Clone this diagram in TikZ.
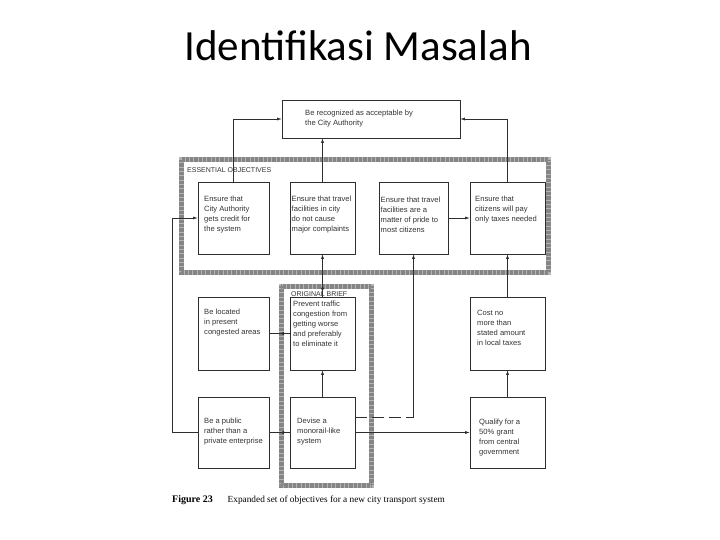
\documentclass[tikz,border=0pt]{standalone}
\usepackage{fontspec}
\setmainfont{Liberation Sans}
\newfontfamily\titlefont{Carlito}
\newfontfamily\capfont{Liberation Serif}
\usetikzlibrary{arrows.meta,decorations.markings}
\definecolor{linec}{HTML}{2E2E2E}
\definecolor{txtc}{HTML}{333333}
\definecolor{hatchA}{HTML}{B4B4B4}
\definecolor{hatchB}{HTML}{858585}
\begin{document}
\begin{tikzpicture}[x=1pt,y=-1pt,
  box/.style={draw=linec, line width=0.6pt, inner sep=0pt, minimum width=#1},
  box/.default=71,
  boxtext/.style={anchor=west, align=left, inner sep=0pt, text=txtc,
    font=\fontsize{7.6}{10}\selectfont},
  frameband/.style={draw=hatchA, line width=5pt},
  framehatch/.style={draw=hatchB, line width=5pt, dash pattern=on 0.4pt off 0.9pt},
  arr/.style={draw=linec, line width=0.6pt, -{Latex[length=4.5pt,width=3pt]}},
  conn/.style={draw=linec, line width=0.6pt},
  midarrow/.style={postaction={decorate}, decoration={markings,
    mark=at position #1 with {\arrow{Latex[length=4.5pt,width=3.2pt]}}}},
  framelabel/.style={anchor=west, inner sep=0pt, text=txtc, font=\fontsize{7}{8}\selectfont}
]
\useasboundingbox (0,0) rectangle (720,540);

% title
\node[font=\titlefont\fontsize{43}{50}\selectfont] (title) at (358,46) {Identifikasi Masalah};

% frames
\draw[frameband] (181,160) rectangle (548,272);
\draw[framehatch] (181,160) rectangle (548,272);
\draw[frameband] (281,286) rectangle (371,485);
\draw[framehatch] (281,286) rectangle (371,485);
\node[framelabel] (esslab) at (187,170.5) {ESSENTIAL OBJECTIVES};
\node[framelabel] (brieflab) at (291,294) {ORIGINAL BRIEF};

% boxes
\node[box=178, minimum height=38] (top) at (371,119) {};
\node[box=71, minimum height=72] (e1) at (233.5,218) {};
\node[box=65, minimum height=72] (e2) at (322.5,218) {};
\node[box=69, minimum height=72] (e3) at (413.5,218) {};
\node[box=75, minimum height=72] (e4) at (507.5,218) {};
\node[box=71, minimum height=73] (loc) at (233.5,333.5) {};
\node[box=65, minimum height=73] (prev) at (322.5,333.5) {};
\node[box=75, minimum height=73] (cost) at (507.5,333.5) {};
\node[box=71, minimum height=71] (pub) at (233.5,432.5) {};
\node[box=65, minimum height=71] (dev) at (322.5,432.5) {};
\node[box=75, minimum height=71] (qual) at (507.5,432.5) {};

% texts
\node[boxtext] (ttop) at (305,119) {Be recognized as acceptable by\\the City Authority};
\node[boxtext] (t1) at (204,215) {Ensure that\\City Authority\\gets credit for\\the system};
\node[boxtext] (t2) at (291.5,215) {Ensure that travel\\facilities in city\\do not cause\\major complaints};
\node[boxtext] (t3) at (380.5,215) {Ensure that travel\\facilities are a\\matter of pride to\\most citizens};
\node[boxtext] (t4) at (475,210) {Ensure that\\citizens will pay\\only taxes needed};
\node[boxtext] (tloc) at (204,323) {Be located\\in present\\congested areas};
\node[boxtext] (tprev) at (293,324) {Prevent traffic\\congestion from\\getting worse\\and preferably\\to eliminate it};
\node[boxtext] (tcost) at (477,328) {Cost no\\more than\\stated amount\\in local taxes};
\node[boxtext] (tpub) at (204,432) {Be a public\\rather than a\\private enterprise};
\node[boxtext] (tdev) at (297,432) {Devise a\\monorail-like\\system};
\node[boxtext] (tqual) at (479,438) {Qualify for a\\50\% grant\\from central\\government};

% connectors
\draw[arr] (e1.north) |- (top.west);
\draw[arr] (e4.north) |- (top.east);
\draw[arr] (e2.north) -- (e2.north |- top.south);
\draw[arr] (e3.east) -- (e4.west);
\coordinate (lcorner) at (172,432.5);
\draw[arr] (pub.west) -- (lcorner) |- (e1.west);
\draw[arr, midarrow=0.28] (prev.north) -- (e2.south);
\draw[arr] (dev.north) -- (prev.south);
\draw[conn, midarrow=0.5] (prev.west) -- (loc.east);
\draw[conn, midarrow=0.5] (dev.west) -- (pub.east);
\draw[arr] (dev.east) -- (qual.west);
\draw[arr] (qual.north) -- (cost.south);
\draw[arr] (cost.north) -- (e4.south);
\coordinate (bend) at (413.5,417);
\draw[conn, dash pattern=on 12pt off 5pt] (bend -| dev.east) -- (bend);
\draw[arr] (bend) -- (e3.south);

% caption
\node[anchor=base west, inner sep=0pt, font=\capfont\fontsize{9.3}{11}\selectfont] (cap) at (172,502)
  {{\fontsize{10}{11}\selectfont\bfseries Figure 23}\hspace{1.6em}Expanded set of objectives for a new city transport system};
\end{tikzpicture}
\end{document}
